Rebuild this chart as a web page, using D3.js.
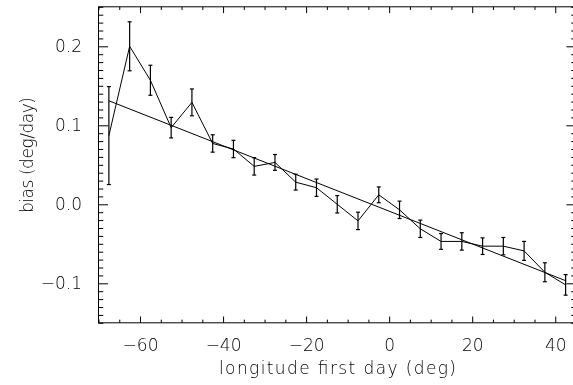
<!DOCTYPE html>
<html>
<head>
<meta charset="utf-8">
<script src="https://cdn.jsdelivr.net/npm/d3@7"></script>
<style>
  body { margin: 0; background: #fff; }
  svg { display: block; overflow: hidden; will-change: transform; }
  text { font-family: "DejaVu Sans ExtraLight", "DejaVu Sans", sans-serif; font-weight: 200; fill: #000; }
</style>
</head>
<body>
<svg id="chart" width="573" height="385"></svg>
<script>
// longitude of first day (deg), bin centres
const longitude = [-67.5, -62.5, -57.5, -52.5, -47.5, -42.5, -37.5, -32.5, -27.5, -22.5, -17.5, -12.5,
                   -7.5, -2.5, 2.5, 7.5, 12.5, 17.5, 22.5, 27.5, 32.5, 37.5, 42.5];
// bias (deg/day) and its error
const bias = [0.087, 0.200, 0.157, 0.097, 0.129, 0.077, 0.070, 0.048, 0.053, 0.028, 0.021, 0.000,
              -0.021, 0.012, -0.007, -0.031, -0.047, -0.047, -0.053, -0.053, -0.059, -0.086, -0.102];
const biasErr = [0.062, 0.031, 0.019, 0.013, 0.017, 0.011, 0.011, 0.011, 0.010, 0.010, 0.011, 0.011,
                 0.011, 0.010, 0.011, 0.011, 0.010, 0.011, 0.0105, 0.011, 0.012, 0.012, 0.013];
// linear fit: intercept, slope
const fitCoef = [-0.0087, -0.00207];

const xMajor = [-60, -40, -20, 0, 20, 40];
const yMajor = [-0.1, 0.0, 0.1, 0.2];

const svg = d3.select("#chart");
const plotL = 98.5, plotR = 576, plotT = 6.8, plotB = 322.8;

const x = d3.scaleLinear().domain([-70, 45]).range([plotL, plotR]);
const y = d3.scaleLinear().domain([-0.15, 0.25]).range([plotB, plotT]);

const xMinor = d3.range(-70, 45.01, 5).filter(v => v % 20 !== 0);
const yMinor = d3.range(-15, 25.01, 1).map(v => v / 100).filter(v => Math.round(v * 100) % 10 !== 0);

const tickX = 0.02 * (plotB - plotT);   // IDL ticklen
const tickY = 0.02 * (plotR - plotL);

function styleAxis(g) {
  g.select(".domain").remove();
  g.selectAll("line").attr("stroke", "#000").attr("stroke-width", 1);
  g.selectAll("text").attr("font-size", 17).attr("font-family", null);
}

// bottom axis
svg.append("g").attr("transform", `translate(0,${plotB})`)
  .call(d3.axisBottom(x).tickValues(xMajor).tickFormat(d3.format("d")).tickSizeInner(-tickX).tickSizeOuter(0).tickPadding(16))
  .call(styleAxis);
svg.append("g").attr("transform", `translate(0,${plotB})`)
  .call(d3.axisBottom(x).tickValues(xMinor).tickFormat("").tickSizeInner(-tickX / 2).tickSizeOuter(0))
  .call(styleAxis);
// top axis
svg.append("g").attr("transform", `translate(0,${plotT})`)
  .call(d3.axisTop(x).tickValues(xMajor).tickFormat("").tickSizeInner(-tickX).tickSizeOuter(0))
  .call(styleAxis);
svg.append("g").attr("transform", `translate(0,${plotT})`)
  .call(d3.axisTop(x).tickValues(xMinor).tickFormat("").tickSizeInner(-tickX / 2).tickSizeOuter(0))
  .call(styleAxis);
// left axis
svg.append("g").attr("transform", `translate(${plotL},0)`)
  .call(d3.axisLeft(y).tickValues(yMajor).tickFormat(d3.format(".1f")).tickSizeInner(-tickY).tickSizeOuter(0).tickPadding(16.5))
  .call(styleAxis);
svg.append("g").attr("transform", `translate(${plotL},0)`)
  .call(d3.axisLeft(y).tickValues(yMinor).tickFormat("").tickSizeInner(-tickY / 2).tickSizeOuter(0))
  .call(styleAxis);
// right axis
svg.append("g").attr("transform", `translate(${plotR},0)`)
  .call(d3.axisRight(y).tickValues(yMajor).tickFormat("").tickSizeInner(-tickY).tickSizeOuter(0))
  .call(styleAxis);
svg.append("g").attr("transform", `translate(${plotR},0)`)
  .call(d3.axisRight(y).tickValues(yMinor).tickFormat("").tickSizeInner(-tickY / 2).tickSizeOuter(0))
  .call(styleAxis);

// frame
svg.append("rect")
  .attr("x", plotL).attr("y", plotT)
  .attr("width", plotR - plotL).attr("height", plotB - plotT)
  .attr("fill", "none").attr("stroke", "#000").attr("stroke-width", 1);

// axis titles
svg.append("text")
  .attr("x", 219).attr("y", 374)
  .attr("font-size", 17)
  .attr("textLength", 237).attr("lengthAdjust", "spacing")
  .text("longitude first day (deg)");
svg.append("text")
  .attr("transform", `translate(33,213) rotate(-90)`)
  .attr("font-size", 17)
  .attr("textLength", 116).attr("lengthAdjust", "spacing")
  .text("bias (deg/day)");

const data = longitude.map((lon, i) => ({ lon, b: bias[i], e: biasErr[i] }));

// data polyline
svg.append("path")
  .datum(data)
  .attr("fill", "none").attr("stroke", "#000").attr("stroke-width", 1)
  .attr("d", d3.line().x(d => x(d.lon)).y(d => y(d.b)));

// error bars
const eb = svg.append("g").attr("stroke", "#000").attr("stroke-width", 1.2);
eb.selectAll("line.bar").data(data).join("line").attr("class", "bar")
  .attr("x1", d => x(d.lon)).attr("x2", d => x(d.lon))
  .attr("y1", d => y(d.b - d.e)).attr("y2", d => y(d.b + d.e));
eb.selectAll("line.cap-hi").data(data).join("line").attr("class", "cap-hi")
  .attr("x1", d => x(d.lon) - 2).attr("x2", d => x(d.lon) + 2)
  .attr("y1", d => y(d.b + d.e)).attr("y2", d => y(d.b + d.e));
eb.selectAll("line.cap-lo").data(data).join("line").attr("class", "cap-lo")
  .attr("x1", d => x(d.lon) - 2).attr("x2", d => x(d.lon) + 2)
  .attr("y1", d => y(d.b - d.e)).attr("y2", d => y(d.b - d.e));

// linear fit
const fitX = d3.extent(longitude);
svg.append("path")
  .datum(fitX)
  .attr("fill", "none").attr("stroke", "#000").attr("stroke-width", 1)
  .attr("d", d3.line().x(d => x(d)).y(d => y(fitCoef[0] + fitCoef[1] * d)));
</script>
</body>
</html>
